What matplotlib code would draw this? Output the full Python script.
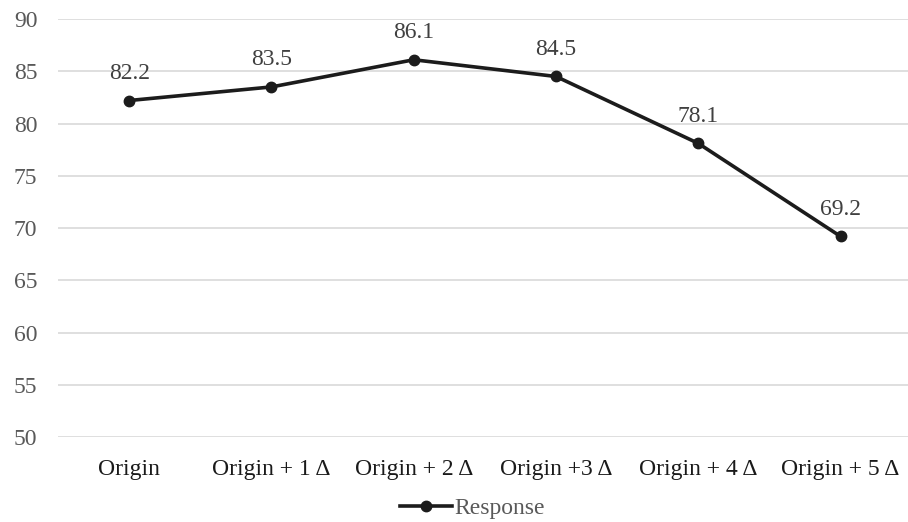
import matplotlib.pyplot as plt
from matplotlib.lines import Line2D

categories = ['Origin', 'Origin + 1 \u0394', 'Origin + 2 \u0394', 'Origin +3 \u0394',
              'Origin + 4 \u0394', 'Origin + 5 \u0394']
response = [82.2, 83.5, 86.1, 84.5, 78.1, 69.2]
y_ticks = [50, 55, 60, 65, 70, 75, 80, 85, 90]

plt.rcParams['font.family'] = ['Liberation Serif', 'DejaVu Serif']

fig = plt.figure(figsize=(9.08, 5.22), dpi=100)
ax = fig.add_axes([0.064, 0.1628, 0.94, 0.8008])

x = list(range(len(categories)))
ax.plot(x, response, color='#1c1c1c', lw=2.6, marker='o', ms=7.5, zorder=3)

for xi, v in zip(x, response):
    ax.annotate(f'{v:.1f}', (xi, v), xytext=(0, 12), textcoords='offset points',
                ha='center', va='bottom', fontsize=17, color='#404040')

ax.set_xlim(-0.5, len(categories) - 0.5)
ax.set_ylim(50, 90)
ax.set_yticks(y_ticks)
ax.set_xticks(x)
ax.set_xticklabels(categories, fontsize=17, color='#1a1a1a')
ax.tick_params(axis='y', labelsize=17, labelcolor='#595959', length=0, pad=15)
ax.tick_params(axis='x', length=0, pad=16)
ax.grid(axis='y', color='#d9d9d9', lw=1.2)
ax.set_axisbelow(True)
for s in ax.spines.values():
    s.set_visible(False)

handle = Line2D([], [], color='#1c1c1c', lw=2.6, marker='o', ms=7.5)
fig.legend([handle], ['Response'], loc='lower center', bbox_to_anchor=(0.52, -0.035),
           frameon=False, fontsize=17, labelcolor='#595959',
           handlelength=2.2, handletextpad=0.1)

fig.savefig('out.png', dpi=100)
